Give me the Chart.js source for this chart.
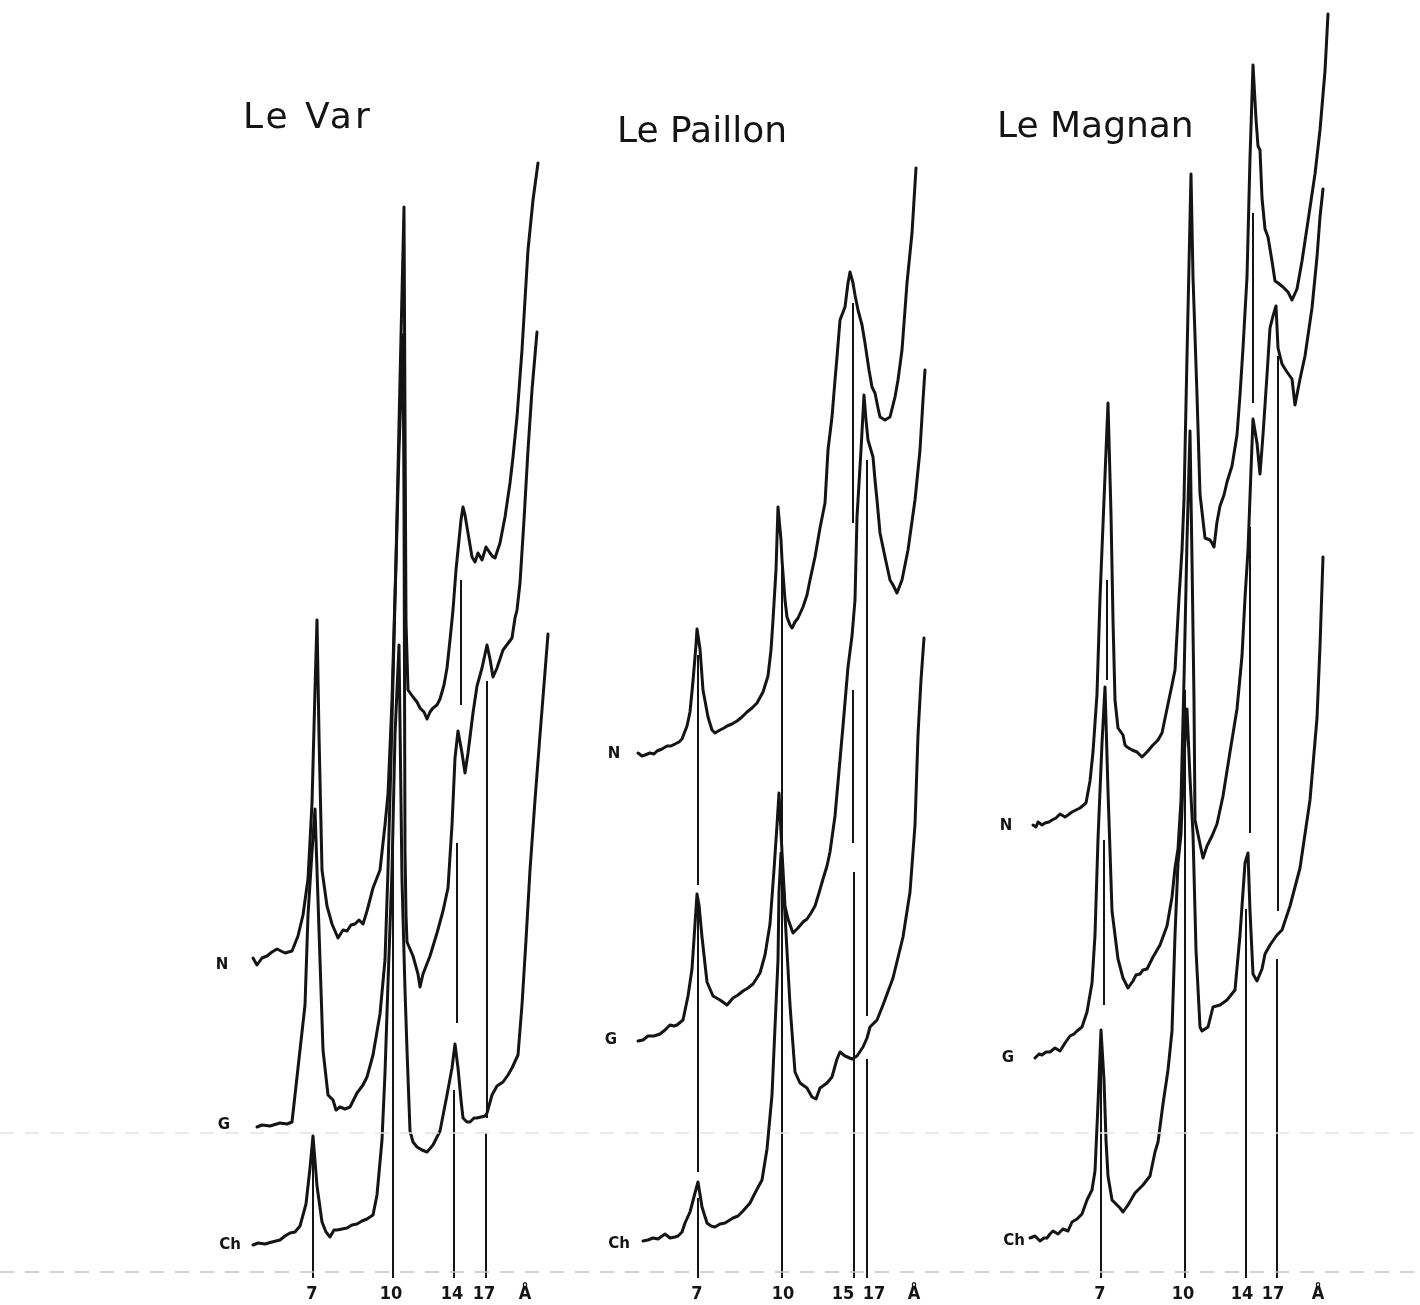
<!DOCTYPE html>
<html>
<head>
<meta charset="utf-8">
<title>Diffractogrammes - Le Var, Le Paillon, Le Magnan</title>
<script src="https://cdn.jsdelivr.net/npm/chart.js@4.4.1/dist/chart.umd.min.js"></script>
<style>
  html, body { margin: 0; padding: 0; background: #fff; }
  #wrap { position: relative; width: 1420px; height: 1305px; }
</style>
</head>
<body>
<div id="wrap"><canvas id="chart"></canvas></div>
<script>
// x = position along the recorder paper, y = height above the base line
// each trace: [position, intensity above its own start], lifted by its offset

const panelTitles = ['Le Var', 'Le Paillon', 'Le Magnan'];
const titleX = [243, 617, 997];
const titleH = [1144, 1130, 1135];

const traceNames = ['N', 'G', 'Ch'];

// Le Var
const varOffsets = [314, 145, 27];
const varLabelX = [222, 224, 230];
const varLabelH = [307, 147, 27];
const varN = [[253,0],[257,-7],[262,0],[267,2],[272,6],[277,9],[285,5],[292,7],[298,22],[303,43],[308,79],[312,155],[315,268],[317,338],[319,223],[322,88],[327,52],[332,34],[338,20],[343,28],[347,27],[351,33],[355,34],[359,38],[363,34],[367,47],[373,70],[380,88],[385,133],[388,164],[392,258],[396,398],[400,578],[404,751],[405,538],[406,336],[408,268],[413,261],[417,256],[420,250],[424,246],[427,239],[430,246],[433,250],[437,253],[440,259],[444,273],[447,290],[450,318],[453,348],[456,388],[458,408],[461,438],[463,451],[465,443],[467,431],[470,413],[472,401],[475,396],[478,405],[482,398],[486,411],[490,405],[493,401],[495,400],[500,415],[505,441],[510,475],[513,501],[517,541],[522,608],[528,708],[533,758],[538,795]];
const varG = [[257,0],[262,2],[270,1],[280,4],[287,3],[292,5],[295,32],[300,77],[305,122],[308,212],[312,275],[315,318],[317,257],[320,167],[323,77],[328,32],[333,27],[336,17],[340,20],[345,18],[350,20],[357,34],[363,42],[367,50],[373,72],[380,113],[385,167],[388,257],[391,367],[395,527],[399,677],[403,792],[404,627],[405,277],[406,212],[407,185],[413,171],[418,153],[420,140],[423,153],[430,171],[437,194],[443,216],[448,239],[452,302],[455,369],[458,396],[462,374],[465,354],[468,374],[473,414],[477,441],[482,459],[487,482],[490,468],[493,450],[497,459],[503,477],[512,489],[515,509],[517,517],[520,544],[524,607],[528,677],[532,737],[537,795]];
const varCh = [[253,0],[258,2],[265,1],[272,3],[280,5],[285,9],[290,12],[295,13],[300,19],[306,41],[310,77],[313,109],[317,59],[322,23],[326,13],[330,8],[334,15],[337,15],[342,16],[347,17],[352,20],[357,21],[362,24],[367,26],[373,30],[377,50],[382,105],[385,172],[388,262],[392,375],[395,510],[399,600],[402,365],[405,255],[407,195],[410,114],[413,103],[417,98],[422,95],[427,93],[433,100],[440,114],[447,150],[452,177],[455,201],[458,177],[461,145],[463,127],[467,123],[470,123],[474,127],[477,127],[481,128],[485,129],[487,132],[492,150],[497,159],[503,163],[508,170],[512,177],[518,190],[522,240],[526,305],[530,375],[535,445],[540,510],[548,611]];
// reference lines: [position, from, to]
const varRefs = [[313,-6,136],[393,-6,442],[461,567,692],[457,249,429],[454,-6,182],[487,154,591],[486,-6,139]];

// Le Paillon
const pailOffsets = [519, 231, 31];
const pailLabelX = [614, 611, 619];
const pailLabelH = [518, 232, 28];
const pailN = [[638,0],[642,-3],[645,-2],[650,0],[654,-1],[657,2],[662,4],[667,7],[671,7],[675,9],[679,11],[682,14],[687,27],[690,41],[693,72],[696,108],[697,124],[700,104],[703,63],[708,36],[712,23],[715,20],[720,23],[724,25],[727,27],[732,29],[737,32],[742,36],[747,41],[752,45],[757,50],[763,61],[768,77],[771,103],[773,133],[776,183],[778,246],[781,213],[782,193],[785,153],[787,136],[790,128],[792,125],[795,131],[798,135],[803,146],[807,158],[810,173],[815,196],[820,225],[825,250],[828,303],[832,336],[835,373],[837,396],[840,433],[845,446],[848,470],[850,481],[853,470],[855,458],[858,443],[862,428],[865,410],[869,383],[872,366],[875,360],[878,345],[880,336],[885,333],[890,336],[895,356],[898,373],[902,403],[907,470],[912,520],[916,585]];
const pailG = [[638,0],[643,1],[648,5],[654,5],[660,7],[665,11],[670,16],[674,15],[677,16],[683,21],[688,45],[692,72],[695,117],[697,147],[699,136],[702,104],[707,59],[713,45],[720,41],[727,36],[733,43],[738,46],[743,50],[748,53],[753,57],[760,68],[765,86],[770,117],[774,171],[777,216],[779,248],[782,189],[785,135],[788,122],[793,108],[798,113],[803,119],[807,122],[811,128],[815,135],[819,148],[823,162],[827,175],[830,189],[835,225],[839,270],[843,315],[848,374],[852,405],[855,441],[857,524],[861,591],[864,646],[866,621],[868,601],[873,584],[875,561],[877,541],[880,508],[885,484],[890,461],[893,456],[897,448],[902,461],[908,491],[915,541],[920,591],[923,641],[925,671]];
const pailCh = [[643,0],[648,1],[653,3],[658,2],[665,7],[670,3],[675,4],[678,5],[682,9],[685,18],[690,29],[695,48],[698,59],[702,34],[707,18],[711,15],[715,14],[720,17],[725,18],[733,23],[738,25],[743,30],[750,38],[755,48],[762,61],[767,92],[772,146],[775,214],[778,281],[779,349],[781,388],[783,361],[785,326],[790,236],[795,169],[800,158],[807,153],[812,144],[816,142],[820,153],[827,158],[832,164],[837,182],[840,189],[845,185],[852,182],[857,185],[863,194],[867,203],[870,214],[877,221],[883,236],[893,263],[903,304],[910,349],[915,416],[918,506],[921,561],[924,603]];
const pailRefs = [[698,387,617],[698,100,367],[698,-6,74],[782,-6,705],[853,749,969],[853,429,582],[854,-6,400],[867,256,812],[867,-6,213]];

// Le Magnan
const magOffsets = [447, 214, 34];
const magLabelX = [1006, 1008, 1014];
const magLabelH = [446, 214, 31];
const magN = [[1033,0],[1036,-2],[1038,3],[1042,0],[1045,2],[1049,3],[1052,5],[1056,7],[1060,11],[1065,8],[1068,10],[1072,13],[1076,15],[1080,17],[1086,22],[1090,44],[1093,73],[1097,131],[1100,227],[1104,325],[1108,422],[1111,311],[1113,205],[1115,125],[1118,97],[1123,90],[1125,80],[1127,78],[1132,75],[1137,73],[1142,68],[1147,73],[1153,80],[1158,85],[1162,92],[1168,121],[1172,140],[1175,155],[1179,227],[1182,275],[1184,325],[1187,469],[1191,651],[1193,548],[1197,430],[1200,331],[1205,287],[1210,285],[1212,282],[1214,278],[1217,303],[1220,319],[1224,330],[1227,343],[1232,359],[1237,390],[1240,430],[1243,477],[1247,548],[1250,667],[1253,760],[1256,706],[1258,679],[1260,675],[1262,627],[1265,596],[1268,588],[1272,564],[1275,544],[1278,542],[1283,538],[1286,535],[1288,533],[1292,525],[1297,536],[1302,564],[1308,604],[1315,651],[1320,695],[1325,754],[1328,811]];
const magG = [[1035,0],[1039,4],[1042,3],[1046,6],[1050,6],[1055,10],[1060,7],[1065,15],[1070,22],[1074,24],[1077,27],[1082,31],[1087,46],[1092,75],[1095,123],[1098,219],[1102,315],[1105,371],[1108,267],[1112,147],[1115,123],[1118,99],[1123,80],[1128,70],[1133,77],[1136,83],[1140,84],[1143,88],[1147,89],[1153,101],[1160,113],[1167,132],[1172,161],[1175,190],[1178,209],[1181,258],[1184,378],[1187,518],[1190,627],[1192,498],[1194,358],[1195,238],[1200,214],[1203,200],[1207,212],[1212,222],[1217,234],[1223,262],[1230,306],[1237,349],[1242,402],[1245,460],[1248,508],[1251,588],[1253,639],[1257,615],[1260,584],[1263,623],[1267,683],[1270,730],[1273,742],[1276,752],[1278,710],[1282,694],[1287,686],[1292,679],[1295,653],[1300,679],[1305,702],[1312,750],[1317,801],[1320,841],[1323,869]];
const magCh = [[1030,0],[1035,2],[1040,-3],[1044,0],[1047,0],[1050,4],[1053,7],[1058,4],[1063,9],[1068,7],[1072,16],[1077,19],[1082,24],[1087,38],[1092,48],[1095,67],[1098,134],[1101,208],[1104,158],[1106,98],[1108,62],[1112,38],[1117,33],[1120,30],[1123,26],[1128,33],[1135,45],[1143,53],[1150,62],[1155,86],[1158,96],[1163,134],[1168,168],[1172,207],[1175,303],[1178,375],[1181,404],[1184,480],[1187,529],[1190,460],[1193,404],[1196,288],[1200,211],[1202,207],[1208,211],[1213,231],[1220,233],[1227,238],[1235,248],[1240,303],[1245,375],[1248,385],[1250,327],[1253,264],[1257,257],[1262,269],[1265,284],[1270,293],[1277,303],[1282,308],[1290,332],[1300,370],[1310,438],[1317,520],[1320,592],[1323,681]];
const magRefs = [[1107,592,692],[1104,267,432],[1101,-6,242],[1185,-6,582],[1253,869,1059],[1250,439,745],[1246,-6,363],[1278,361,916],[1277,-6,313]];

// d-spacing labels under the base line
const tickPos = [312, 391, 452, 484, 525, 697, 783, 843, 874, 914, 1100, 1183, 1242, 1273, 1318];
const tickText = ['7', '10', '14', '17', 'Å', '7', '10', '15', '17', 'Å', '7', '10', '14', '17', 'Å'];

// faint fold marks of the scanned page
const foldH = [139, 0];

const INK = '#141414';

const panels = [
  { traces: [varN, varG, varCh], offsets: varOffsets, labelX: varLabelX, labelH: varLabelH, refs: varRefs },
  { traces: [pailN, pailG, pailCh], offsets: pailOffsets, labelX: pailLabelX, labelH: pailLabelH, refs: pailRefs },
  { traces: [magN, magG, magCh], offsets: magOffsets, labelX: magLabelX, labelH: magLabelH, refs: magRefs }
];

const datasets = [];

foldH.forEach((h, i) => {
  datasets.push({
    data: [{ x: 0, y: h }, { x: 1420, y: h }],
    borderColor: i === 0 ? '#e4e4e4' : '#c4c4c4',
    borderWidth: 1.5,
    borderDash: [14, 11],
    pointRadius: 0,
    clip: false
  });
});

panels.forEach(p => {
  p.refs.forEach(r => {
    datasets.push({
      data: [{ x: r[0], y: r[1] }, { x: r[0], y: r[2] }],
      borderColor: INK,
      borderWidth: 2,
      pointRadius: 0,
      clip: false
    });
  });
  p.traces.forEach((t, i) => {
    datasets.push({
      data: t.map(pt => ({ x: pt[0], y: p.offsets[i] + pt[1] })),
      borderColor: INK,
      borderWidth: 3,
      borderJoinStyle: 'round',
      borderCapStyle: 'round',
      pointRadius: 0,
      tension: 0,
      clip: false
    });
  });
});

// titles and N / G / Ch labels, placed through the scales
const textPlugin = {
  id: 'texts',
  afterDatasetsDraw(chart) {
    const { ctx, scales: { x, y } } = chart;
    ctx.save();
    ctx.fillStyle = INK;
    ctx.textBaseline = 'alphabetic';
    ctx.textAlign = 'left';
    ctx.font = '36px "DejaVu Sans"';
    panelTitles.forEach((t, i) => {
      // the lettering on the original spreads the short title a bit wider
      ctx.letterSpacing = t.length < 8 ? '3px' : '0px';
      ctx.fillText(t, x.getPixelForValue(titleX[i]), y.getPixelForValue(titleH[i]));
    });
    ctx.letterSpacing = '0px';
    ctx.font = 'bold 15px "DejaVu Sans"';
    ctx.textAlign = 'center';
    ctx.textBaseline = 'middle';
    panels.forEach(p => {
      traceNames.forEach((n, i) => {
        ctx.fillText(n, x.getPixelForValue(p.labelX[i]), y.getPixelForValue(p.labelH[i]));
      });
    });
    ctx.restore();
  }
};

new Chart(document.getElementById('chart'), {
  type: 'line',
  data: { datasets },
  options: {
    responsive: true,
    maintainAspectRatio: false,
    animation: false,
    layout: { padding: 0 },
    plugins: {
      legend: { display: false },
      tooltip: { enabled: false }
    },
    scales: {
      x: {
        type: 'linear',
        min: 0,
        max: 1420,
        grid: { display: false, drawTicks: false },
        border: { display: false },
        afterBuildTicks: (axis) => {
          axis.ticks = tickPos.map(v => ({ value: v }));
        },
        afterFit: (axis) => {
          axis.height = 33;
        },
        ticks: {
          autoSkip: false,
          maxRotation: 0,
          padding: 12,
          color: INK,
          font: { family: '"Liberation Sans Narrow", "DejaVu Sans Condensed", sans-serif', size: 18, weight: 'bold' },
          callback: (value, index) => tickText[index]
        }
      },
      y: {
        type: 'linear',
        min: 0,
        max: 1272,
        display: false
      }
    }
  },
  plugins: [textPlugin]
});
</script>
</body>
</html>
